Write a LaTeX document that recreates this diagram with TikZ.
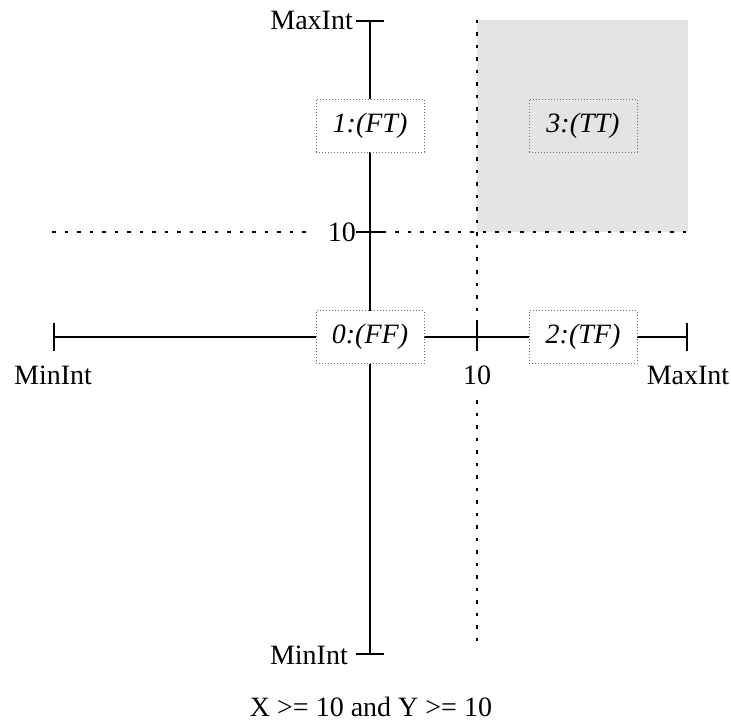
\documentclass[tikz,border=0pt]{standalone}
\usepackage{fontspec}
\setmainfont{Liberation Serif}
\usepackage{tikz}
\usetikzlibrary{arrows.meta,positioning}
\definecolor{quadfill}{RGB}{228,228,228}
\definecolor{boxline}{RGB}{110,110,110}

\begin{document}
\begin{tikzpicture}[
  x=1pt, y=-1pt,
  font=\fontsize{28}{34}\selectfont,
  axis/.style={line width=2.4pt, draw=black},
  ends/.style={axis, {Bar[width=28pt]}-{Bar[width=28pt]}},
  guide/.style={line width=2.4pt, dash pattern=on 3.5pt off 9pt},
  region/.style={draw=boxline, dotted, line width=1pt, fill=white,
                 minimum width=108pt, minimum height=53pt, inner sep=0pt,
                 font=\fontsize{28}{34}\selectfont\itshape},
  lbl/.style={inner sep=3pt},
]
\useasboundingbox (0,0) rectangle (731,722);

% ===================== axis points =====================
\coordinate (xmin) at (53,337);
\coordinate (xmax) at (688,337);
\coordinate (ymax) at (370,20);
\coordinate (ymin) at (370,655);
\coordinate (xten) at (477,337);
\coordinate (yten) at (370,232);

\coordinate (hgl) at (52,232);
\coordinate (hgr) at (688,232);
\coordinate (vgt) at (477,20);
\coordinate (vgb) at (477,645);

% labels
\node[lbl, left=14pt of ymax]  (ymaxlbl) {MaxInt};
\node[lbl, left=19pt of ymin]  (yminlbl) {MinInt};
\node[lbl, below=26pt of xmin] (xminlbl) {MinInt};
\node[lbl, below=26pt of xmax] (xmaxlbl) {MaxInt};
\node[lbl, below=26pt of xten] (xtenlbl) {10};
\node[lbl, left=11pt of yten]  (ytenlbl) {10};

% ===================== X >= 10 and Y >= 10 quadrant =====================
\fill[quadfill] (vgt) rectangle (hgr);

\draw[guide] (hgl) -- ([xshift=-16pt]ytenlbl.west);
\draw[guide] (yten) -- (hgr);
\draw[guide] (vgt) -- (xten);
\draw[guide] ([yshift=-12pt]xtenlbl.south) -- (vgb);

% ===================== axes =====================
\draw[ends] (xmin) -- (xmax);
\draw[ends] (ymin) -- (ymax);
\draw[axis] ([yshift=14pt]xten) -- ([yshift=-14pt]xten);
\draw[axis] ([xshift=-14pt]yten) -- ([xshift=14pt]yten);

% regions
\node[region] (ff) at (370,337) {0:(FF)};
\node[region] (ft) at (370,126) {1:(FT)};
\node[region] (tf) at (583,337) {2:(TF)};
\node[region, fill=none] (tt) at (583,126) {3:(TT)};

\node (cond) at (371,707) {X >= 10 and Y >= 10};

\end{tikzpicture}
\end{document}
